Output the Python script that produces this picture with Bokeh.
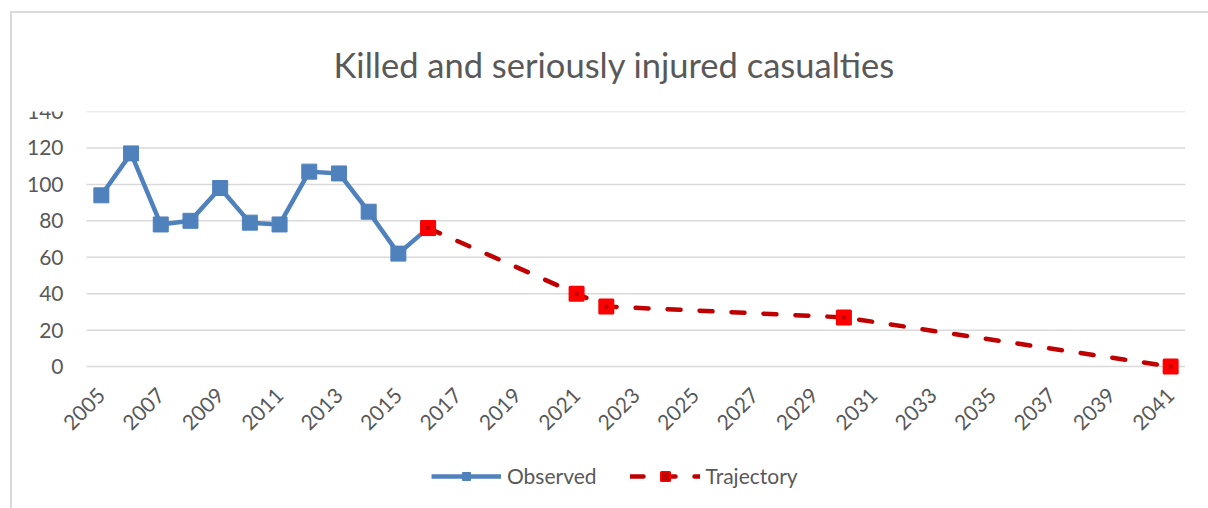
import numpy as np
from bokeh.plotting import figure
from bokeh.models import Range1d, FixedTicker, Legend, LegendItem
from bokeh.embed import file_html
from bokeh.resources import INLINE

obs_years = [2005, 2006, 2007, 2008, 2009, 2010, 2011, 2012, 2013, 2014, 2015, 2016]
obs_values = [94, 117, 78, 80, 98, 79, 78, 107, 106, 85, 62, 76]
traj_years = [2016, 2021, 2022, 2030, 2041]
traj_values = [76, 40, 33, 27, 0]
x_tick_years = list(range(2005, 2042, 2))
y_ticks = [0, 20, 40, 60, 80, 100, 120, 140]

TEXT = "#595959"
FONT = "Lato"

# layout geometry (pixels)
PLOT_W = 1099          # width of the category area
LEFT_PAD = 72          # room inside the frame for the y labels
cat_start = obs_years[0] - 0.5
cat_end = traj_years[-1] + 0.5
px_per_year = PLOT_W / (cat_end - cat_start)
x_start = cat_start - LEFT_PAD / px_per_year

p = figure(frame_width=PLOT_W + LEFT_PAD, frame_height=389, output_backend="svg",
           toolbar_location=None,
           x_range=Range1d(x_start, cat_end), y_range=Range1d(-73.5, 140),
           min_border_left=2, min_border_right=23, min_border_top=98, min_border_bottom=8)
p.styles = {"margin-left": "10px", "margin-top": "11px",
            "border-left": "2px solid #D9D9D9", "border-top": "2px solid #D9D9D9"}
p.title.text = "Killed and seriously injured casualties"
p.title.align = "left"
p.title.offset = 319
p.title.standoff = 53
p.title.text_font = FONT
p.title.text_font_size = "34.5px"
p.title.text_font_style = "normal"
p.title.text_color = TEXT

p.outline_line_color = None
p.xgrid.visible = False
p.ygrid.visible = False
p.yaxis.ticker = FixedTicker(ticks=y_ticks)
p.xaxis.ticker = FixedTicker(ticks=x_tick_years)
p.xaxis.fixed_location = -5
p.yaxis.fixed_location = cat_start
p.xaxis.major_label_orientation = np.pi / 4
for ax in (p.xaxis, p.yaxis):
    ax.axis_line_color = None
    ax.major_tick_line_color = None
    ax.minor_tick_line_color = None
    ax.major_label_text_font = FONT
    ax.major_label_text_font_size = "21px"
    ax.major_label_text_color = TEXT
p.yaxis.major_label_standoff = 17
p.xaxis.major_label_standoff = 10

# horizontal gridlines spanning the category area only
p.segment(x0=[cat_start] * len(y_ticks), y0=y_ticks,
          x1=[cat_end] * len(y_ticks), y1=y_ticks,
          line_color="#D9D9D9", line_width=1.5)

obs_line = p.line(obs_years, obs_values, line_color="#4F81BD", line_width=4.5, line_join="round")
obs_mark = p.scatter(obs_years, obs_values, marker="square", size=15,
                     fill_color="#4F81BD", line_color="#4F81BD")

traj_line = p.line(traj_years, traj_values, line_color="#C00000", line_width=4.5,
                   line_dash="13 19", line_cap="round")
traj_mark = p.scatter(traj_years, traj_values, marker="square", size=13,
                      fill_color="#FF0000", line_color="#FF0000", line_width=3, line_join="round")
traj_inner = p.scatter(traj_years, traj_values, marker="square", size=4,
                       fill_color="#C00000", line_color=None)

legend = Legend(items=[LegendItem(label="Observed", renderers=[obs_line, obs_mark]),
                       LegendItem(label="Trajectory", renderers=[traj_line, traj_mark, traj_inner])],
                orientation="horizontal", location=(345 + LEFT_PAD, 12),
                glyph_width=70, glyph_height=20, label_standoff=6, spacing=33,
                padding=0, margin=0, border_line_color=None, background_fill_alpha=0,
                label_text_font=FONT, label_text_font_size="21px", label_text_color=TEXT)
p.add_layout(legend, "center")

open("out.html", "w").write(file_html(p, INLINE))
